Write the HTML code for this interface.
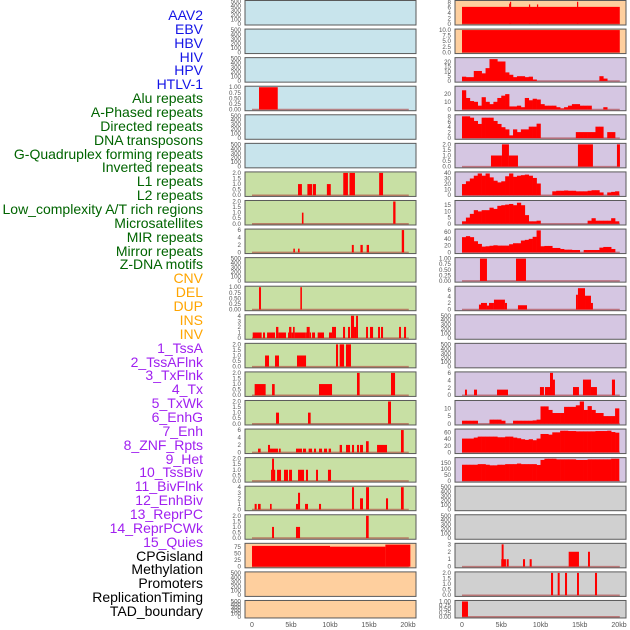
<!DOCTYPE html>
<html><head><meta charset="utf-8">
<style>
html,body{margin:0;padding:0;background:#fff;}
#wrap{position:relative;width:630px;height:630px;overflow:hidden;font-family:"Liberation Sans",sans-serif;}
.lab{position:absolute;right:427px;font-size:14px;line-height:14px;white-space:nowrap;text-align:right;}
svg{position:absolute;left:0;top:0;}
</style></head>
<body>
<div id="wrap">
<svg id="chart" width="630" height="630"></svg>
</div>
<script>
// ---- labels ----
const trackNames = ["AAV2","EBV","HBV","HIV","HPV","HTLV-1","Alu repeats","A-Phased repeats","Directed repeats","DNA transposons","G-Quadruplex forming repeats","Inverted repeats","L1 repeats","L2 repeats","Low_complexity A/T rich regions","Microsatellites","MIR repeats","Mirror repeats","Z-DNA motifs","CNV","DEL","DUP","INS","INV","1_TssA","2_TssAFlnk","3_TxFlnk","4_Tx","5_TxWk","6_EnhG","7_Enh","8_ZNF_Rpts","9_Het","10_TssBiv","11_BivFlnk","12_EnhBiv","13_ReprPC","14_ReprPCWk","15_Quies","CPGisland","Methylation","Promoters","ReplicationTiming","TAD_boundary"];
const trackGroups = ["v","v","v","v","v","v","r","r","r","r","r","r","r","r","r","r","r","r","r","s","s","s","s","s","c","c","c","c","c","c","c","c","c","c","c","c","c","c","c","o","o","o","o","o"];
const xTickLabels = ["0","5kb","10kb","15kb","20kb"];
const xTickValues = [0,5,10,15,20];

// ---- data (kb segments [start,end,value]) ----
const hivSegs = [[0.9,3.3,1]];
const aluSegs = [[5.9,6.4,1],[7.1,7.7,1],[7.8,8.2,1],[9.6,10.1,1],[11.7,12.3,2],[12.5,13.2,2],[16.3,16.8,2]];
const aphasedSegs = [[6.4,6.6,1],[18.1,18.4,2]];
const directedSegs = [[5.3,5.5,1],[5.9,6.1,1],[12.8,13.05,2],[13.9,14.2,2],[14.7,15.0,2],[19.2,19.5,6]];
const gquadSegs = [[0.9,1.15,1],[6.2,6.4,1]];
const invertedSegs = [[0.09,1.24,1],[1.41,1.67,1],[1.93,2.95,1],[3.08,3.38,2],[3.38,4.36,1],[4.62,4.75,1],[4.75,5.05,2],[5.05,5.26,1],[5.26,5.47,2],[5.47,6.88,1],[6.88,7.01,1],[7.01,7.4,2],[7.4,7.57,1],[7.7,8.08,1],[8.42,9.23,1],[9.87,10.26,1],[10.26,10.77,2],[11.67,11.93,2],[12.31,12.57,2],[12.69,13.08,4],[13.08,13.34,2],[13.34,13.59,4],[14.62,14.87,2],[15.13,15.52,2],[16.16,16.41,2],[16.54,16.8,2],[18.85,19.1,2],[19.49,19.75,2]];
const l1Segs = [[1.67,2.18,1],[2.95,3.46,1],[5.77,6.93,1],[10.77,11.03,2],[11.24,11.8,2],[12.05,12.69,2]];
const l2Segs = [[0.34,1.75,1],[2.57,2.91,1],[8.59,10.26,1],[13.46,13.8,2],[17.82,18.34,2]];
const lowcompSegs = [[3.08,3.46,1],[7.18,7.52,1],[17.44,17.82,2]];
const microSegs = [[0.77,1.11,1],[2.05,2.31,2],[2.31,3.34,1],[3.46,3.68,1],[5.64,6.41,1],[6.54,6.93,1],[7.26,7.7,1],[7.95,8.21,1],[8.59,8.98,1],[9.23,9.62,1],[9.83,10.13,1],[11.24,11.54,2],[12.05,12.57,2],[12.82,13.08,2],[13.46,13.72,2],[13.85,14.23,2],[14.62,14.96,3],[16.03,16.41,2],[16.41,17.31,2],[19.1,19.45,6]];
const mirSegs = [[2.44,2.57,1],[2.57,2.82,2],[2.82,2.95,1],[3.21,3.72,1],[4.1,4.62,1],[4.75,5.13,1],[5.9,6.67,1],[6.92,7.18,1],[8.21,8.46,1],[9.74,10.13,1]];
const mirrorSegs = [[0.34,0.6,1],[0.77,1.11,1],[2.31,2.52,1],[5.64,5.9,1],[5.9,6.16,3],[6.8,7.18,1],[8.59,8.85,1],[12.82,13.08,4],[13.85,14.23,2],[14.62,15.0,4],[17.18,17.44,2],[19.1,19.45,4]];
const zdnaSegs = [[2.57,2.82,1],[5.64,6.16,1],[14.62,14.96,2]];
const cnvSegs = [[0,10,80],[10,17.1,77],[17.1,20.3,85]];
const insSegs = [[0,20.1,6.3],[6.0,6.11,7.5],[6.11,6.24,8.2],[8.53,8.65,7.2],[9.55,9.67,7.2],[14.65,14.8,8.2]];
const invSegs = [[0,20.1,10]];
const txSegs = [[3.69,5.09,1],[5.09,5.98,2],[5.98,7.13,1],[14.77,16.68,2],[19.74,20.12,2]];
const znfSegs = [[2.29,3.18,1],[6.88,8.15,1]];
const hetSegs = [[2.16,2.42,1.5],[2.42,3.18,2],[3.18,3.44,1.2],[3.44,4.07,2],[4.07,5.47,3],[5.47,5.73,2],[7.13,8.28,1.3],[14.52,14.77,4.5],[14.77,15.67,6.5],[15.67,16.43,4.2],[16.43,16.68,2]];
const enhBivSegs = [[0.38,0.63,1.5],[1.53,1.91,1.5],[4.46,5.86,1.5],[9.93,10.44,2.2],[10.57,11.21,2.2],[11.21,11.59,6],[11.59,11.84,4.2],[14.14,14.9,2.2],[15.41,16.43,4.2],[16.43,17.19,2.2],[19.1,19.49,4.2]];
const promoterSegs = [[5.0,5.6,1],[5.05,5.3,3],[5.69,5.95,1],[7.77,8.03,1],[8.62,8.88,1],[13.59,14.9,2],[16.05,16.3,2]];
const replicationSegs = [[11.34,11.6,2],[12.19,12.44,2],[13.12,13.38,2],[14.65,14.9,2],[16.94,17.2,2]];
const tadSegs = [[0,0.76,1]];

// ---- data (0.5kb bins, 0..20kb) ----
const tssABins = [4.5,4,4,10.5,10.5,8,13.5,23,23,20.5,20.5,9,6.5,4,5,5,4,4.5,1.5,0,0,0,0,0,0,0,0,0,0,0,0,0,0,0,0,5,2.5,0,0,0];
const tssAFlnkBins = [25,15,11,10,5,16,10,7,10,15,18,20,4,4,5,3,15,12,14,13,7,5,5,5,3,1.5,3,5,7,7,5,5,5,0,0,0,3,0,0,0];
const txFlnkBins = [8,8,7.5,6.3,5.2,7.5,7.5,7.5,6.3,5.2,4,3.2,1,3.2,2.2,3.2,3.2,4.2,4.2,5.3,0,0,0,0,0,0,0,0,0,2.2,2.2,2.2,2.2,2.2,4.2,4.2,0,2.2,2.2,0];
const txWkBins = [20,25,30,35,39,35,39,32,26,23,25,34,39,33,35,36,37,35,31,21,0,0,0,7,8,8,8.5,8,8,7,7,7,8,9,9,5,0,5,6,7];
const enhGBins = [2,5,8,11,10,11,11,13,12,14.5,15,15.5,16,15,17,15,7,2,2,2.5,0,0,0,0,0,0,0,0,0,0,0,0,2.5,4.5,2.5,2.5,2.5,2.5,4.5,2];
const enhBins = [45,48,45,33,25,17,18,19.5,21,20,20,20,24,27,27,35,37,40,46,65,18,19,19,13,13,10,8,8,7,7,0,7,7,7,7,14,16,16,10,0];
const reprPCBins = [2,2,2,2,0,0,0,2.7,2.7,2.7,2,0,0,2,2,2,2,2,2.2,2.7,11.3,11.3,9,7,7,7,11,11,11,12,14.5,9,11.5,9,7,7,5,5,5,10];
const reprPCWkBins = [42,42,42,45,48,48,48,48,48,46,46,48,48,45,43,40,38,40,37,42,56,56,54,61,61,66,66,65,65,64,64,64,64,64,65,65,65,66,62,60];
const quiesBins = [135,135,135,135,140,140,135,130,130,135,135,140,140,140,145,140,140,140,140,133,175,185,185,185,180,180,180,180,180,175,175,175,180,180,180,180,180,180,185,185];

const T500=[0,100,200,300,400,500], T1=[0,0.25,0.5,0.75,1], T2=[0,0.5,1,1.5,2];
const BLUE="#c8e4ec", GREEN="#c8e0a4", ORANGE="#fecf9e", PURPLE="#d5c6e2", GRAY="#d0d0d0";
const leftPanels = [
 ["aav2",BLUE,500,T500,null,null],["ebv",BLUE,500,T500,null,null],["hbv",BLUE,500,T500,null,null],
 ["hiv",BLUE,1,T1,hivSegs,null],["hpv",BLUE,500,T500,null,null],["htlv1",BLUE,500,T500,null,null],
 ["alu",GREEN,2,T2,aluSegs,null],["a-phased",GREEN,2,T2,aphasedSegs,null],["directed",GREEN,6,[0,2,4,6],directedSegs,null],
 ["dna-transposons",GREEN,500,T500,null,null],["g-quadruplex",GREEN,1,T1,gquadSegs,null],["inverted",GREEN,4,[0,1,2,3,4],invertedSegs,null],
 ["l1",GREEN,2,T2,l1Segs,null],["l2",GREEN,2,T2,l2Segs,null],["low-complexity",GREEN,2,T2,lowcompSegs,null],
 ["microsatellites",GREEN,6,[0,2,4,6],microSegs,null],["mir",GREEN,2,T2,mirSegs,null],["mirror",GREEN,4,[0,1,2,3,4],mirrorSegs,null],
 ["z-dna",GREEN,2,T2,zdnaSegs,null],["cnv",ORANGE,86,[0,25,50,75],cnvSegs,null],["del",ORANGE,500,T500,null,null],["dup",ORANGE,500,T500,null,null]
];
const rightPanels = [
 ["ins",ORANGE,8.3,[0,2,4,6,8],insSegs,null],["inv",ORANGE,10,[0,2.5,5,7.5,10],invSegs,null],
 ["tssa",PURPLE,23.5,[0,5,10,15,20],null,tssABins],["tssaflnk",PURPLE,29,[0,10,20],null,tssAFlnkBins],
 ["txflnk",PURPLE,8.2,[0,2,4,6,8],null,txFlnkBins],["tx",PURPLE,2,T2,txSegs,null],
 ["txwk",PURPLE,40,[0,10,20,30,40],null,txWkBins],["enhg",PURPLE,18,[0,5,10,15],null,enhGBins],
 ["enh",PURPLE,66,[0,20,40,60],null,enhBins],["znf-rpts",PURPLE,1,T1,znfSegs,null],
 ["het",PURPLE,6.8,[0,2,4,6],hetSegs,null],["tssbiv",PURPLE,500,T500,null,null],["bivflnk",PURPLE,500,T500,null,null],
 ["enhbiv",PURPLE,6,[0,2,4,6],enhBivSegs,null],["reprpc",PURPLE,14.5,[0,5,10],null,reprPCBins],
 ["reprpcwk",PURPLE,68,[0,20,40,60],null,reprPCWkBins],["quies",PURPLE,186,[0,50,100,150],null,quiesBins],
 ["cpgisland",GRAY,500,T500,null,null],["methylation",GRAY,500,T500,null,null],
 ["promoters",GRAY,3,[0,1,2,3],promoterSegs,null],["replication-timing",GRAY,2,T2,replicationSegs,null],["tad-boundary",GRAY,1,T1,tadSegs,null]
];

const NS="http://www.w3.org/2000/svg";
const svg=document.getElementById("chart");
const wrap=document.getElementById("wrap");
const groupColor={v:"#1414e6",r:"#006400",s:"#ffa500",c:"#a020f0",o:"#000000"};

trackNames.forEach((n,i)=>{
  const d=document.createElement("div");
  d.className="lab";
  
  
  d.style.top=(8+i*13.86)+"px";
  d.style.color=groupColor[trackGroups[i]];
  d.textContent=n;
  wrap.appendChild(d);
});

function mk(tag,attrs){const e=document.createElementNS(NS,tag);for(const k in attrs)e.setAttribute(k,attrs[k]);return e;}
function fmt(v,ticks){
  const step=ticks[1]-ticks[0];
  if(step===0.25)return v.toFixed(2);
  if(step%1!==0)return v.toFixed(1);
  return String(v);
}

function drawColumn(panels,px0,pw,x0,pxPerKb){
  panels.forEach((p,i)=>{
    const [name,bg,ymax,ticks,segs,bins]=p;
    const top=i*28.57+0.5;
    const h=(i===21)?17.5:24.5;
    const g=mk("g",{});
    
    
    svg.appendChild(g);
    const frame=mk("rect",{x:px0,y:top,width:pw,height:h,fill:bg,stroke:"#5a5a5a","stroke-width":1});
    
    
    g.appendChild(frame);
    const yb=top+h-1.2, yt=top+1;
    const ys=v=>yb-(v/ymax)*(yb-yt);
    const xs=k=>x0+k*pxPerKb;
    ticks.forEach(t=>{
      const tx=mk("text",{x:px0-4,y:ys(t)+2,"font-size":"6.2","text-anchor":"end",fill:"#555","font-family":"Liberation Sans, sans-serif"});
      
      
      tx.textContent=fmt(t,ticks);
      g.appendChild(tx);
    });
    if(!segs&&!bins)return;
    const bl=mk("line",{x1:xs(0),x2:xs(20.1),y1:yb,y2:yb,stroke:"rgba(170,50,50,0.55)","stroke-width":1.5});
    
    
    g.appendChild(bl);
    if(segs){
      segs.forEach(s=>{
        const r=mk("rect",{x:xs(s[0]),y:ys(s[2]),width:Math.max(1.2,xs(s[1])-xs(s[0])),height:yb-ys(s[2]),fill:"#ff0000"});
        
        
        g.appendChild(r);
      });
    }
    if(bins){
      bins.forEach((v,j)=>{
        if(v<=0)return;
        const r=mk("rect",{x:xs(j*0.5),y:ys(v),width:xs(0.5)-xs(0)+0.3,height:yb-ys(v),fill:"#ff0000"});
        
        
        g.appendChild(r);
      });
    }
  });
  xTickValues.forEach((v,j)=>{
    const t=mk("text",{x:x0+v*pxPerKb,y:627,"font-size":"7","text-anchor":"middle",fill:"#555","font-family":"Liberation Sans, sans-serif"});
    
    
    t.textContent=xTickLabels[j];
    svg.appendChild(t);
  });
}
drawColumn(leftPanels,245,171,252,7.8);
drawColumn(rightPanels,455,171,462,7.85);
</script>
</body></html>
